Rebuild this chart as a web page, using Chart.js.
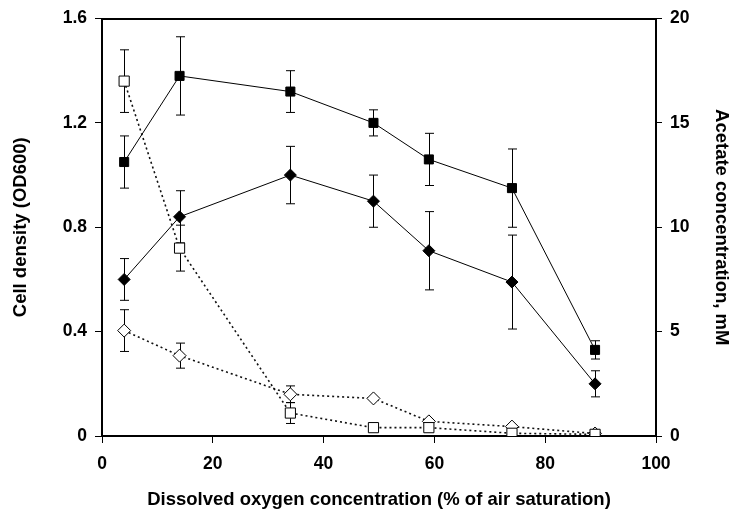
<!DOCTYPE html>
<html>
<head>
<meta charset="utf-8">
<script src="https://cdn.jsdelivr.net/npm/chart.js@4"></script>
<style>
  body { margin: 0; background: #fff; }
  canvas { display: block; }
</style>
</head>
<body>
<canvas id="chart" width="734" height="521"></canvas>
<script>
// dissolved oxygen (% of air saturation)
const oxygen = [4, 14, 34, 49, 59, 74, 89];

// cell density, OD600 (left axis)
const densitySquares = [1.05, 1.38, 1.32, 1.20, 1.06, 0.95, 0.33];
const densitySquaresErr = [0.10, 0.15, 0.08, 0.05, 0.10, 0.15, 0.035];
const densityDiamonds = [0.60, 0.84, 1.00, 0.90, 0.71, 0.59, 0.20];
const densityDiamondsErr = [0.08, 0.10, 0.11, 0.10, 0.15, 0.18, 0.05];

// acetate, mM (right axis)
const acetateSquares = [17.0, 9.0, 1.1, 0.4, 0.4, 0.13, 0.08];
const acetateSquaresErr = [1.5, 1.1, 0.5, 0, 0, 0, 0];
const acetateDiamonds = [5.05, 3.85, 2.0, 1.8, 0.7, 0.45, 0.12];
const acetateDiamondsErr = [1.0, 0.6, 0.4, 0, 0, 0, 0];

const xTitle = "Dissolved oxygen concentration (% of air saturation)";
const leftTitle = "Cell density (OD600)";
const rightTitle = "Acetate concentration, mM";

const toPoints = (vals) => vals.map((v, i) => ({ x: oxygen[i], y: v }));

// draws the vertical error bars with caps, under the markers
const errorBars = {
    id: "errorBars",
    beforeDatasetsDraw(chart) {
        const ctx = chart.ctx;
        const xScale = chart.scales.x;
        ctx.save();
        ctx.strokeStyle = "#000";
        ctx.lineWidth = 1;
        chart.data.datasets.forEach((ds) => {
            const yScale = chart.scales[ds.yAxisID];
            ds.data.forEach((p, j) => {
                const e = ds.errors[j];
                if (!e) return;
                const px = Math.round(xScale.getPixelForValue(p.x)) + 0.5;
                const top = yScale.getPixelForValue(p.y + e);
                const bot = yScale.getPixelForValue(p.y - e);
                ctx.beginPath();
                ctx.moveTo(px, top);
                ctx.lineTo(px, bot);
                ctx.moveTo(px - 4.5, top);
                ctx.lineTo(px + 4.5, top);
                ctx.moveTo(px - 4.5, bot);
                ctx.lineTo(px + 4.5, bot);
                ctx.stroke();
            });
        });
        ctx.restore();
    },
};

const tickFont = { family: "'Liberation Sans', Arial, sans-serif", size: 17.5, weight: "bold" };
const titleFont = { family: "'Liberation Sans', Arial, sans-serif", size: 18.5, weight: "bold" };

const solid = {
    borderColor: "#000",
    borderWidth: 1,
    tension: 0,
    pointBorderColor: "#000",
    pointBackgroundColor: "#000",
    pointBorderWidth: 1,
};
const dotted = {
    borderColor: "#111",
    borderWidth: 1.6,
    borderDash: [2, 3],
    tension: 0,
    pointBorderColor: "#000",
    pointBackgroundColor: "#fff",
    pointBorderWidth: 1,
};

new Chart(document.getElementById("chart"), {
    type: "line",
    data: {
        datasets: [
            { ...solid, data: toPoints(densitySquares), errors: densitySquaresErr, yAxisID: "y", pointStyle: "rect", pointRadius: 6.4 },
            { ...solid, data: toPoints(densityDiamonds), errors: densityDiamondsErr, yAxisID: "y", pointStyle: "rectRot", pointRadius: 6 },
            { ...dotted, data: toPoints(acetateSquares), errors: acetateSquaresErr, yAxisID: "y2", pointStyle: "rect", pointRadius: 7.2 },
            { ...dotted, data: toPoints(acetateDiamonds), errors: acetateDiamondsErr, yAxisID: "y2", pointStyle: "rectRot", pointRadius: 6.5 },
        ],
    },
    options: {
        responsive: false,
        animation: false,
        layout: { padding: 0 },
        plugins: { legend: { display: false }, tooltip: { enabled: false } },
        scales: {
            x: {
                type: "linear",
                min: 0,
                max: 100,
                afterFit: (s) => { s.height = 85; },
                ticks: { stepSize: 20, color: "#000", font: tickFont, padding: 11 },
                grid: { drawOnChartArea: false, tickLength: 7, color: "#000" },
                border: { color: "#000", width: 2 },
                title: { display: true, text: xTitle, color: "#000", font: titleFont, padding: { top: 10, bottom: 10 } },
            },
            xTop: {
                type: "linear",
                position: "top",
                min: 0,
                max: 100,
                afterFit: (s) => { s.height = 17; },
                ticks: { display: false },
                grid: { drawOnChartArea: false, drawTicks: false },
                border: { color: "#000", width: 2 },
            },
            y: {
                position: "left",
                min: 0,
                max: 1.6,
                afterFit: (s) => { s.width = 102; },
                ticks: { stepSize: 0.4, color: "#000", font: tickFont, padding: 8 },
                grid: { drawOnChartArea: false, tickLength: 7, color: "#000" },
                border: { color: "#000", width: 2 },
                title: { display: true, text: leftTitle, color: "#000", font: titleFont, padding: { top: 10, bottom: 0 } },
            },
            y2: {
                position: "right",
                min: 0,
                max: 20,
                afterFit: (s) => { s.width = 78; },
                ticks: { stepSize: 5, color: "#000", font: tickFont, padding: 8 },
                grid: { drawOnChartArea: false, tickLength: 6, color: "#000" },
                border: { color: "#000", width: 2 },
                title: { display: true, text: rightTitle, color: "#000", font: titleFont, padding: { top: 2, bottom: 0 } },
            },
        },
    },
    plugins: [errorBars],
});
</script>
</body>
</html>
